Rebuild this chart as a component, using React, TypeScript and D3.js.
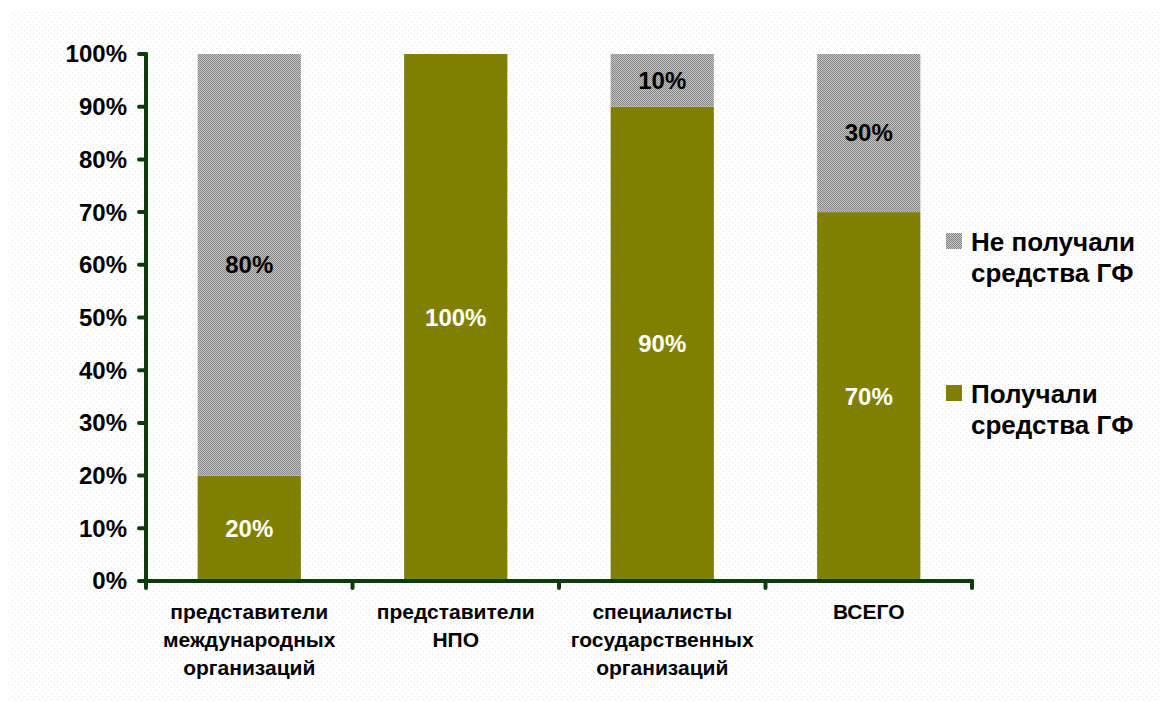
import React from "react";
import * as d3 from "d3";

const categories = [
  ["представители", "международных", "организаций"],
  ["представители", "НПО"],
  ["специалисты", "государственных", "организаций"],
  ["ВСЕГО"],
];
const received = [20, 100, 90, 70];
const notReceived = [80, 0, 10, 30];
const yTicks = [0, 10, 20, 30, 40, 50, 60, 70, 80, 90, 100];
const legendLines = [
  ["Не получали", "средства ГФ"],
  ["Получали", "средства ГФ"],
];

const W = 1161;
const H = 702;
const left = 146;
const right = 972;
const top = 54;
const bottom = 581;
const OLIVE = "#808000";
const AXIS = "#0b3d0b";
const FONT = "Arial, 'Liberation Sans', sans-serif";

export default function App() {
  const x = d3
    .scaleBand<number>()
    .domain(d3.range(categories.length))
    .range([left, right])
    .paddingInner(0.5)
    .paddingOuter(0.25);
  const y = d3.scaleLinear().domain([0, 100]).range([bottom, top]);
  const band = (right - left) / categories.length;
  const stack = d3
    .stack<number>()
    .keys(["r", "n"])
    .value((i, k) => (k === "r" ? received[i] : notReceived[i]))(d3.range(categories.length));

  return (
    <svg
      width={W}
      height={H}
      style={{ position: "absolute", left: 0, top: 0, display: "block" }}
    >
      <defs>
        <pattern id="bgdots" width="6" height="6" patternUnits="userSpaceOnUse">
          <rect width="6" height="6" fill="#ffffff" />
          <rect x="0" y="0" width="1" height="1" fill="#e4e4e4" />
          <rect x="3" y="3" width="1" height="1" fill="#e4e4e4" />
        </pattern>
        <pattern id="checker" width="2" height="2" patternUnits="userSpaceOnUse">
          <rect width="2" height="2" fill="#c4c4c4" />
          <rect x="0" y="0" width="1" height="1" fill="#868686" />
          <rect x="1" y="1" width="1" height="1" fill="#868686" />
        </pattern>
      </defs>
      <rect x={0} y={0} width={W} height={H} fill="#fff" />
      <rect x={10} y={12} width={W - 10} height={H - 12} fill="url(#bgdots)" />

      {/* bars */}
      {stack.map((layer, li) =>
        layer.map((d, i) => {
          const h = y(d[0]) - y(d[1]);
          if (h <= 0) return null;
          return (
            <rect
              key={`${li}-${i}`}
              x={x(i)}
              y={y(d[1])}
              width={x.bandwidth()}
              height={h}
              fill={li === 0 ? OLIVE : "url(#checker)"}
            />
          );
        })
      )}

      {/* value labels */}
      {stack.map((layer, li) =>
        layer.map((d, i) => {
          const v = d[1] - d[0];
          if (v <= 0) return null;
          return (
            <text
              key={`l${li}-${i}`}
              x={(x(i) as number) + x.bandwidth() / 2}
              y={y((d[0] + d[1]) / 2)}
              dy="0.35em"
              textAnchor="middle"
              fontFamily={FONT}
              fontWeight="bold"
              fontSize={24}
              fill={li === 0 ? "#ffffff" : "#000000"}
            >
              {v}%
            </text>
          );
        })
      )}

      {/* y axis */}
      <line x1={left} x2={left} y1={top} y2={bottom} stroke={AXIS} strokeWidth={4} strokeLinecap="round" />
      {yTicks.map((t) => (
        <g key={t}>
          <line x1={left - 7} x2={left} y1={y(t)} y2={y(t)} stroke={AXIS} strokeWidth={4} strokeLinecap="round" />
          <text
            x={127}
            y={y(t)}
            dy="0.35em"
            textAnchor="end"
            fontFamily={FONT}
            fontWeight="bold"
            fontSize={24}
            fill="#000"
          >
            {t}%
          </text>
        </g>
      ))}

      {/* x axis */}
      <line x1={left} x2={right} y1={bottom} y2={bottom} stroke={AXIS} strokeWidth={4} strokeLinecap="round" />
      {d3.range(categories.length + 1).map((i) => (
        <line
          key={i}
          x1={left + i * band}
          x2={left + i * band}
          y1={bottom}
          y2={bottom + 7}
          stroke={AXIS}
          strokeWidth={4}
          strokeLinecap="round"
        />
      ))}
      {categories.map((lines, i) => (
        <text
          key={i}
          x={(x(i) as number) + x.bandwidth() / 2}
          y={612}
          textAnchor="middle"
          fontFamily={FONT}
          fontWeight="bold"
          fontSize={21}
          fill="#000"
        >
          {lines.map((l, j) => (
            <tspan key={j} x={(x(i) as number) + x.bandwidth() / 2} dy={j === 0 ? "0.35em" : 28}>
              {l}
            </tspan>
          ))}
        </text>
      ))}

      {/* legend */}
      {[
        { fill: "url(#checker)", y: 233 },
        { fill: OLIVE, y: 385 },
      ].map((item, k) => (
        <g key={k}>
          <rect x={946} y={item.y} width={16} height={16} fill={item.fill} />
          <text x={971} y={item.y + 9} dy="0.35em" fontFamily={FONT} fontWeight="bold" fontSize={26} fill="#000">
            {legendLines[k][0]}
          </text>
          <text x={971} y={item.y + 40} dy="0.35em" fontFamily={FONT} fontWeight="bold" fontSize={26} fill="#000">
            {legendLines[k][1]}
          </text>
        </g>
      ))}
    </svg>
  );
}
